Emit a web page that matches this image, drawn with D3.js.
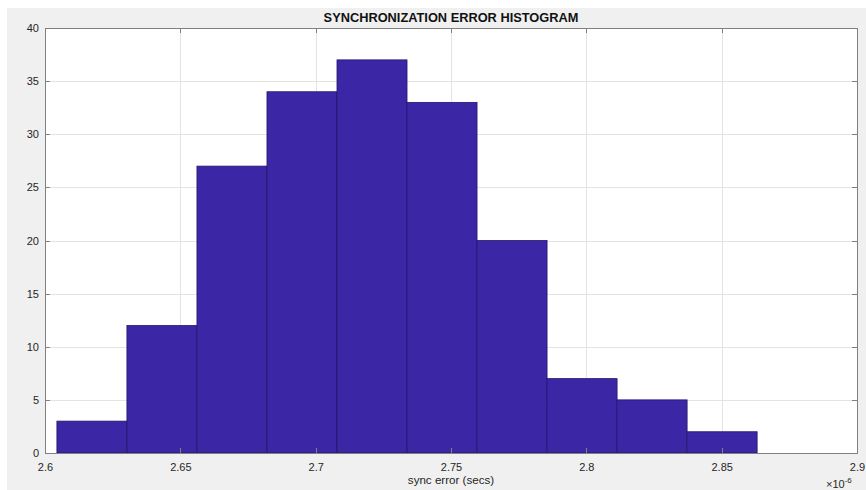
<!DOCTYPE html>
<html>
<head>
<meta charset="UTF-8">
<title>Synchronization error histogram</title>
<script src="https://cdn.jsdelivr.net/npm/d3@7"></script>
<style>
  body { margin: 0; background: #fff; }
  svg { display: block; font-family: "Liberation Sans", Arial, sans-serif; }
  .grid line { stroke: #e3e3e3; shape-rendering: crispEdges; }
  .axis path, .axis line { stroke: #808080; shape-rendering: crispEdges; }
  .axis text { fill: #262626; font-size: 11px; }
  .bar { fill: #3b26a6; stroke: #24176b; stroke-width: 0.8; }
</style>
</head>
<body>
<div id="graphe"></div>
<script>
// bin edges (x 1e-6 s) and counts
var binStart = 2.6044, binWidth = 0.02587;
var counts = [3, 12, 27, 34, 37, 33, 20, 7, 5, 2];
var xTicks = [2.6, 2.65, 2.7, 2.75, 2.8, 2.85, 2.9];
var yTicks = [0, 5, 10, 15, 20, 25, 30, 35, 40];

var width = 866, height = 490;
var margin = { top: 28, right: 9, bottom: 37, left: 45 };
var w = width - margin.left - margin.right,
    h = height - margin.top - margin.bottom;

var svg = d3.select("#graphe").append("svg")
  .attr("width", width)
  .attr("height", height);

// figure background
svg.append("rect").attr("x", 7).attr("y", 8)
  .attr("width", width - 7).attr("height", height - 8)
  .attr("fill", "#f0f0f0");

var g = svg.append("g").attr("transform", "translate(" + margin.left + "," + margin.top + ")");

var x = d3.scaleLinear().domain([2.6, 2.9]).range([0, w]);
var y = d3.scaleLinear().domain([0, 40]).range([h, 0]);

g.append("rect").attr("width", w).attr("height", h).attr("fill", "#fff");

// grille
g.append("g").attr("class", "grid")
  .selectAll("line.v").data(xTicks).enter().append("line")
  .attr("x1", function(d) { return Math.round(x(d)) + 0.5; })
  .attr("x2", function(d) { return Math.round(x(d)) + 0.5; })
  .attr("y1", 0).attr("y2", h);
g.select(".grid")
  .selectAll("line.h").data(yTicks).enter().append("line")
  .attr("y1", function(d) { return Math.round(y(d)) + 0.5; })
  .attr("y2", function(d) { return Math.round(y(d)) + 0.5; })
  .attr("x1", 0).attr("x2", w);

// barres
var bins = counts.map(function(c, i) {
  return { x0: binStart + i * binWidth, x1: binStart + (i + 1) * binWidth, n: c };
});
g.selectAll(".bar").data(bins).enter().append("rect")
  .attr("class", "bar")
  .attr("x", function(d) { return x(d.x0); })
  .attr("width", function(d) { return x(d.x1) - x(d.x0); })
  .attr("y", function(d) { return y(d.n); })
  .attr("height", function(d) { return h - y(d.n); });

// axes (ticks inward, box)
var fmt = function(d) { return d3.format("")(+d.toFixed(2)); };
g.append("g").attr("class", "axis")
  .attr("transform", "translate(0," + h + ")")
  .call(d3.axisBottom(x).tickValues(xTicks).tickSizeInner(-5).tickSizeOuter(0).tickPadding(10).tickFormat(fmt));
g.append("g").attr("class", "axis")
  .call(d3.axisTop(x).tickValues(xTicks).tickSizeInner(-5).tickSizeOuter(0).tickFormat(""));
g.append("g").attr("class", "axis")
  .call(d3.axisLeft(y).tickValues(yTicks).tickSizeInner(-5).tickSizeOuter(0).tickPadding(6));
g.append("g").attr("class", "axis")
  .attr("transform", "translate(" + w + ",0)")
  .call(d3.axisRight(y).tickValues(yTicks).tickSizeInner(-5).tickSizeOuter(0).tickFormat(""));

// titre et libellés
svg.append("text")
  .attr("x", margin.left + w / 2).attr("y", 22)
  .attr("text-anchor", "middle")
  .style("font-size", "12.8px").style("font-weight", "bold").style("fill", "#111")
  .text("SYNCHRONIZATION ERROR HISTOGRAM");

svg.append("text")
  .attr("x", margin.left + w / 2).attr("y", 484)
  .attr("text-anchor", "middle")
  .style("font-size", "11.6px").style("fill", "#262626")
  .text("sync error (secs)");

var mult = svg.append("text")
  .attr("x", 826).attr("y", 488)
  .style("font-size", "11px").style("fill", "#262626");
mult.append("tspan").text("\u00d710");
mult.append("tspan").attr("dy", -5).style("font-size", "8px").text("-6");
</script>
</body>
</html>
